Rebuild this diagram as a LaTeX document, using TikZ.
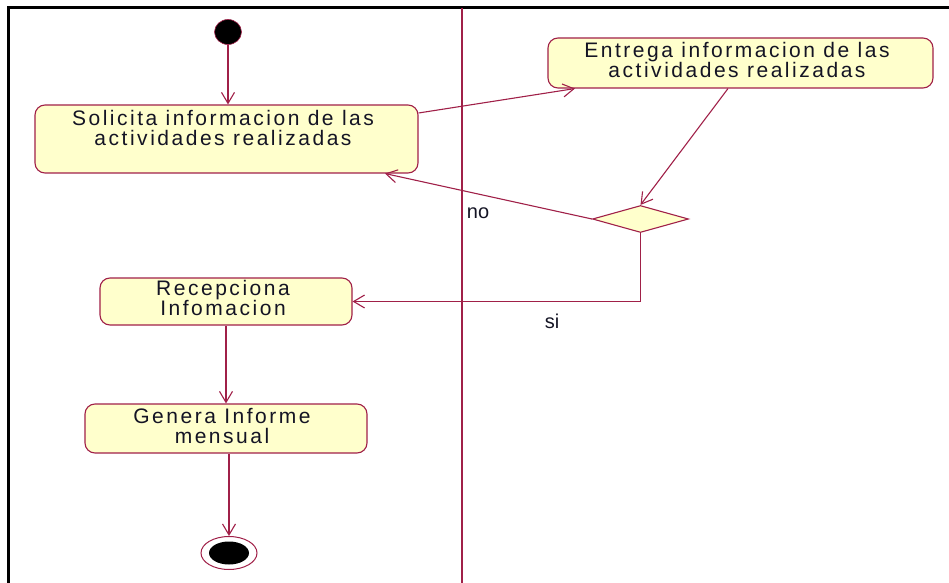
\documentclass[tikz,border=0pt]{standalone}
\usepackage{fontspec}
\setmainfont{Liberation Sans}
\newfontfamily\boxfont[LetterSpace=12]{Liberation Sans}
\usetikzlibrary{arrows.meta,shapes.geometric}
\definecolor{umlline}{RGB}{160,32,72}
\definecolor{umlfill}{RGB}{255,255,204}
\definecolor{umltext}{RGB}{20,20,36}
\tikzset{
  x=1bp, y=-1bp,
  actbox/.style={draw=umlline, fill=umlfill, line width=1.1bp, rounded corners=10bp, inner sep=0pt},
  boxtext/.style={font=\boxfont\fontsize{21bp}{20bp}\selectfont, text=umltext, align=center, inner sep=0pt},
  guardtext/.style={font=\fontsize{20bp}{20bp}\selectfont, text=umltext, inner sep=0pt},
  flow/.style={draw=umlline, line width=1.1bp, -{Straight Barb[length=11bp,width=13bp,line width=1.1bp]}},
  decision/.style={diamond, draw=umlline, fill=umlfill, line width=1.1bp, inner sep=0pt, minimum width=96bp, minimum height=27bp},
}
\begin{document}
\begin{tikzpicture}
\useasboundingbox (0,0) rectangle (949,583);
% outer frame (top and left edges)
\draw[black, line width=3bp] (949,7.5) -- (8.5,7.5) -- (8.5,583);
% swimlane divider
\draw[umlline, line width=2bp] (462,8) -- (462,583);

% start and end states
\node[ellipse, fill=black, draw=umlline, line width=0.6bp, minimum width=27bp, minimum height=25bp, inner sep=0pt] (init) at (228,32) {};
\node[ellipse, draw=umlline, line width=1bp, fill=white, minimum width=56bp, minimum height=33bp, inner sep=0pt] (fin) at (229,553) {};
\node[ellipse, fill=black, minimum width=40bp, minimum height=23bp, inner sep=0pt] (finin) at (229,553) {};

% activities
\node[actbox, minimum width=383bp, minimum height=68bp] (sol) at (226.5,139) {};
\node[boxtext] (soltxt) at (223,128) {Solicita informacion de las\\actividades realizadas};

\node[actbox, minimum width=385bp, minimum height=50bp] (ent) at (740.5,63) {};
\node[boxtext] (enttxt) at (737,60) {Entrega informacion de las\\actividades realizadas};

\node[actbox, minimum width=252bp, minimum height=47bp] (rec) at (226,301.5) {};
\node[boxtext] (rectxt) at (223,297.5) {Recepciona\\Infomacion};

\node[actbox, minimum width=282bp, minimum height=49bp] (gen) at (226,428.5) {};
\node[boxtext] (gentxt) at (222,426) {Genera Informe\\mensual};

% decision
\node[decision] (dia) at (640.5,219) {};

% flows
\draw[flow] (init) -- (init |- sol.north);
\draw[flow] (sol.east |- 0,113) -- (ent.south -| 575,0);
\draw[flow] (ent.south -| 728,0) -- (dia.north);
\draw[flow] (dia.west) -- (sol.south -| 385,0);
\draw[flow] (dia.south) |- (rec.east);
\draw[flow] (rec.south) -- (gen.north);
\draw[flow] (gen.south -| fin.north) -- (fin.north);

% guards
\node[guardtext] (gno) at (478,213) {no};
\node[guardtext] (gsi) at (552,321) {si};
\end{tikzpicture}
\end{document}
